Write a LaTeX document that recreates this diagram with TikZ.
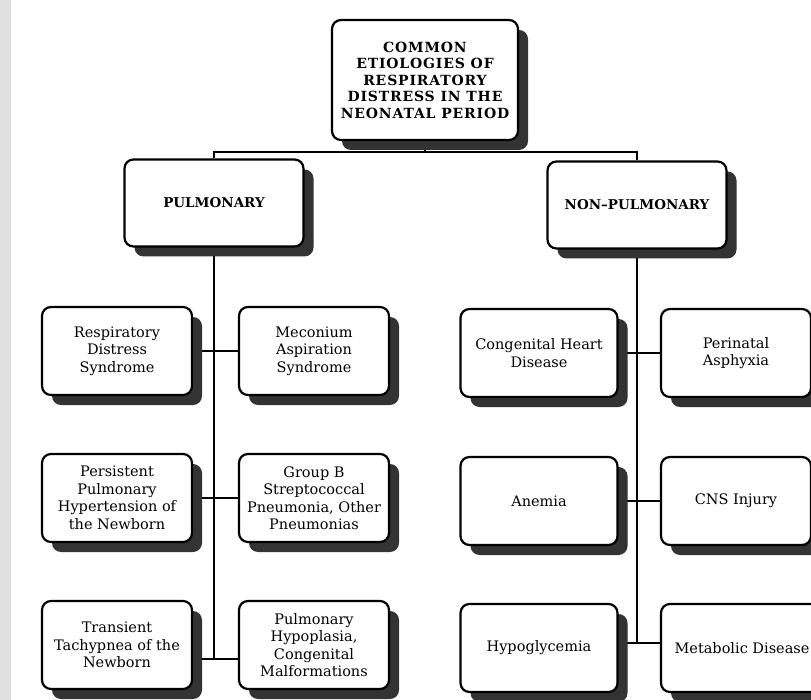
\documentclass[tikz,border=0pt]{standalone}
\usepackage{fontspec}
\setmainfont{DejaVu Serif}
\newfontfamily\headfont[LetterSpace=6]{DejaVu Serif}
\usepackage{pgf}
\usepackage{tikz}
\usetikzlibrary{shapes,arrows,shadows,backgrounds,positioning,fit}

\begin{document}
\begin{tikzpicture}[x=1pt,y=-1pt]
			\tikzstyle{Box}		= [draw, line width=2.2pt, rounded corners=9pt, fill=white, align=center, inner sep=2pt, drop shadow={shadow xshift=10pt, shadow yshift=-10pt, fill=black!80, opacity=1}]
			\tikzstyle{Title}	= [Box, minimum width=186pt, minimum height=120pt, font=\headfont\fontsize{14}{16.5}\selectfont\bfseries]
			\tikzstyle{Branch}	= [Box, minimum width=179pt, minimum height=87pt, font=\fontsize{13.5}{16}\selectfont\bfseries]
			\tikzstyle{Cause}	= [Box, minimum width=150pt, minimum height=88pt, font=\fontsize{14.5}{17.5}\selectfont]
			\tikzstyle{Wide}	= [Cause, minimum width=157pt]
			\tikzstyle{Link}	= [line width=1.4pt]
			\tikzstyle{Page}	= [fill=white]
			
			\clip (0,0) rectangle (811,700);
			
			\node (title) at (425,80) [Title] {COMMON\\ETIOLOGIES OF\\RESPIRATORY\\DISTRESS IN THE\\NEONATAL PERIOD};
			\node (pulm) at (214,203) [Branch] {PULMONARY};
			\node (nonp) at (637,205) [Branch] {NON--PULMONARY};
			
			\node (rds) at (117,351) [Cause] {Respiratory\\Distress\\Syndrome};
			\node (mas) at (314,351) [Cause] {Meconium\\Aspiration\\Syndrome};
			\node (pphn) at (117,498) [Cause] {Persistent\\Pulmonary\\Hypertension of\\the Newborn};
			\node (gbs) at (314,498) [Cause] {Group B\\Streptococcal\\Pneumonia, Other\\Pneumonias};
			\node (ttn) at (117,645) [Cause] {Transient\\Tachypnea of the\\Newborn};
			\node (hypo) at (314,645) [Cause] {Pulmonary\\Hypoplasia,\\Congenital\\Malformations};
			
			\node (chd) at (539,353) [Wide] {Congenital Heart\\Disease};
			\node (asph) at (736,353) [Cause] {Perinatal\\Asphyxia};
			\node (anem) at (539,501) [Wide] {Anemia};
			\node (cns) at (736,501) [Cause] {CNS Injury};
			\node (glyc) at (539,648) [Wide] {Hypoglycemia};
			\node (meta) at (742,648) [Wide, minimum width=162pt] {Metabolic Disease};
			
			\coordinate (split) at (425,152);
			\coordinate (lend) at (214,659);
			\coordinate (rend) at (637,643);
			
			\begin{scope}[on background layer]
				\fill [Page] (0,0) rectangle (811,700);
				\fill [black!12] (0,0) rectangle (11,700);
				\draw [-] (title) to (split) [Link];
				\draw [-] (pulm.north) |- (split) -| (nonp.north) [Link];
				\draw [-] (pulm.south) to (lend) [Link];
				\draw [-] (nonp.south) to (rend) [Link];
				\draw [-] (rds) to (mas) [Link];
				\draw [-] (pphn) to (gbs) [Link];
				\draw [-] ([yshift=-14pt]ttn.east) to ([yshift=-14pt]hypo.west) [Link];
				\draw [-] (chd) to (asph) [Link];
				\draw [-] (anem) to (cns) [Link];
				\draw [-] ([yshift=5pt]glyc.east) to ([yshift=5pt]meta.west) [Link];
			\end{scope}
			
		\end{tikzpicture}
\end{document}
